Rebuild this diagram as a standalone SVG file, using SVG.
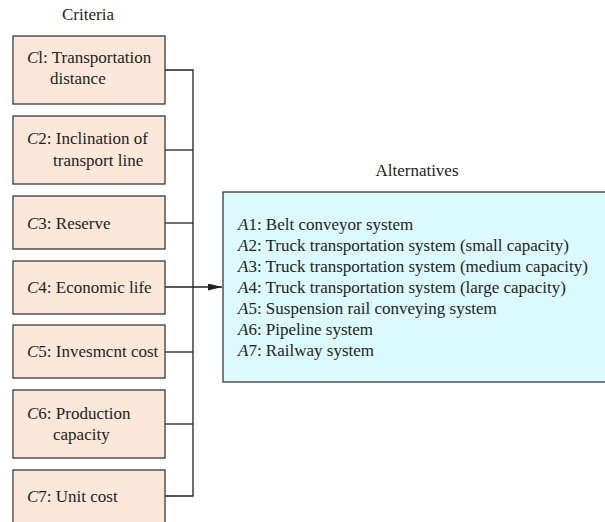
<svg xmlns="http://www.w3.org/2000/svg" width="605" height="522" viewBox="0 0 605 522">
<defs>
<style>
text{font-family:"Liberation Serif","Times New Roman",serif;font-size:17px;fill:#231f20}
.i{font-style:italic}
.crit{fill:#fbe8da;stroke:#3a3a3a;stroke-width:1.3}
.alt{fill:#dcf9fd;stroke:#3a3a3a;stroke-width:1.3}
.ln{fill:none;stroke:#231f20;stroke-width:1.3}
</style>
<marker id="ah" viewBox="0 0 14 7" refX="14" refY="3.5" markerWidth="14" markerHeight="7" markerUnits="userSpaceOnUse" orient="auto">
<path d="M0,0 L14,3.5 L0,7 z" fill="#231f20"/>
</marker>
</defs>
<rect width="605" height="522" fill="#fff"/>
<text x="88" y="20" text-anchor="middle">Criteria</text>
<text x="417" y="176" text-anchor="middle">Alternatives</text>

<g id="connectors">
<path class="ln" d="M165,70 H193 V496 H165"/>
<path class="ln" d="M165,150 H193"/>
<path class="ln" d="M165,223 H193"/>
<path class="ln" d="M165,352 H193"/>
<path class="ln" d="M165,424 H193"/>
<path class="ln" d="M165,287 H222" marker-end="url(#ah)"/>
</g>

<g id="c1"><rect class="crit" x="13" y="36" width="152" height="68"/>
<text x="27" y="63"><tspan class="i">C</tspan>l: Transportation</text>
<text x="50" y="84">distance</text></g>
<g id="c2"><rect class="crit" x="13" y="116" width="152" height="68"/>
<text x="27" y="144"><tspan class="i">C</tspan>2: Inclination of</text>
<text x="53" y="166">transport line</text></g>
<g id="c3"><rect class="crit" x="13" y="196" width="152" height="53"/>
<text x="27" y="229"><tspan class="i">C</tspan>3: Reserve</text></g>
<g id="c4"><rect class="crit" x="13" y="261" width="152" height="53"/>
<text x="27" y="293"><tspan class="i">C</tspan>4: Economic life</text></g>
<g id="c5"><rect class="crit" x="13" y="325" width="152" height="53"/>
<text x="27" y="357"><tspan class="i">C</tspan>5: Invesmcnt cost</text></g>
<g id="c6"><rect class="crit" x="13" y="390" width="152" height="68"/>
<text x="27" y="419"><tspan class="i">C</tspan>6: Production</text>
<text x="53" y="440">capacity</text></g>
<g id="c7"><rect class="crit" x="13" y="470" width="152" height="60"/>
<text x="27" y="502"><tspan class="i">C</tspan>7: Unit cost</text></g>

<g id="alternatives"><rect class="alt" x="223" y="192" width="390" height="190"/>
<text x="238" y="230"><tspan class="i">A</tspan>1: Belt conveyor system</text>
<text x="238" y="251"><tspan class="i">A</tspan>2: Truck transportation system (small capacity)</text>
<text x="238" y="272"><tspan class="i">A</tspan>3: Truck transportation system (medium capacity)</text>
<text x="238" y="293"><tspan class="i">A</tspan>4: Truck transportation system (large capacity)</text>
<text x="238" y="314"><tspan class="i">A</tspan>5: Suspension rail conveying system</text>
<text x="238" y="335"><tspan class="i">A</tspan>6: Pipeline system</text>
<text x="238" y="356"><tspan class="i">A</tspan>7: Railway system</text>
</g>
</svg>
